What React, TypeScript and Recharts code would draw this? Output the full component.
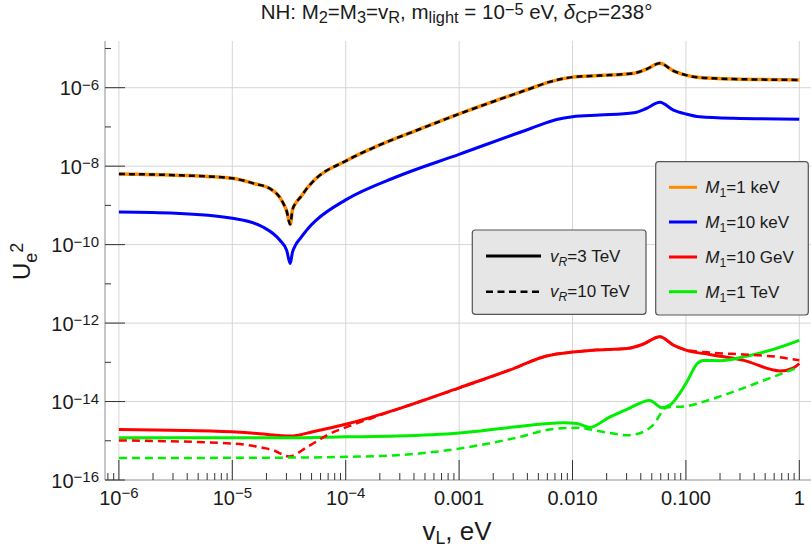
import React from "react";
import { LineChart, Line, XAxis, YAxis, CartesianGrid } from "recharts";

type Pt = { x: number; y: number };

// x ticks (v_L in eV)
const xMajor = [1e-6, 1e-5, 1e-4, 1e-3, 1e-2, 1e-1, 1];
const xMajorLabels = ["10|−6", "10|−5", "10|−4", "0.001", "0.010", "0.100", "1"];
const xMinorMantissa = [2, 3, 4, 5, 6, 7, 8, 9];
const xTicks = [8e-7, 9e-7, ...xMajor.slice(0, 6).flatMap((d) => [d, ...xMinorMantissa.map((m) => m * d)]), 1];

// y ticks (U_e^2)
const yTicks = [1e-16, 1e-15, 1e-14, 1e-13, 1e-12, 1e-11, 1e-10, 1e-9, 1e-8, 1e-7, 1e-6, 1e-5];
const yMajor = [1e-16, 1e-14, 1e-12, 1e-10, 1e-8, 1e-6];
const yMajorLabels = ["10|−16", "10|−14", "10|−12", "10|−10", "10|−8", "10|−6"];
const yGrid = [1e-14, 1e-12, 1e-10, 1e-8, 1e-6];

// M1 = 1 keV, vR = 3 TeV (orange) — the 10 TeV curve lies on top of it
const keV1_vR3: Pt[] = [
  { x: 1e-6, y: 6.31e-9 }, { x: 3.16e-6, y: 5.89e-9 }, { x: 1e-5, y: 4.9e-9 },
  { x: 1.58e-5, y: 3.55e-9 }, { x: 2.14e-5, y: 2.69e-9 }, { x: 2.82e-5, y: 1.12e-9 },
  { x: 3.02e-5, y: 7.08e-10 }, { x: 3.24e-5, y: 3.31e-10 }, { x: 3.39e-5, y: 7.6e-10 },
  { x: 3.63e-5, y: 1.15e-9 }, { x: 3.98e-5, y: 1.6e-9 }, { x: 4.68e-5, y: 3.0e-9 },
  { x: 5.5e-5, y: 4.9e-9 }, { x: 1e-4, y: 1.35e-8 },
  { x: 2e-4, y: 3.47e-8 }, { x: 4.47e-4, y: 8.71e-8 }, { x: 1e-3, y: 2.14e-7 },
  { x: 4.27e-3, y: 9.55e-7 }, { x: 6.3e-3, y: 1.41e-6 }, { x: 0.01, y: 1.86e-6 },
  { x: 0.0174, y: 2.04e-6 }, { x: 0.0347, y: 2.34e-6 }, { x: 0.0447, y: 2.95e-6 },
  { x: 0.0589, y: 4.17e-6 }, { x: 0.0776, y: 2.69e-6 }, { x: 0.1, y: 2.09e-6 },
  { x: 0.132, y: 1.82e-6 }, { x: 0.263, y: 1.66e-6 }, { x: 1, y: 1.58e-6 },
];
const keV1_vR10: Pt[] = keV1_vR3;

// M1 = 10 keV (blue)
const keV10_vR3: Pt[] = [
  { x: 1e-6, y: 6.76e-10 }, { x: 3.16e-6, y: 6.31e-10 }, { x: 1e-5, y: 4.68e-10 },
  { x: 1.86e-5, y: 2.82e-10 }, { x: 2.63e-5, y: 1.29e-10 }, { x: 3.02e-5, y: 7.08e-11 },
  { x: 3.24e-5, y: 3.31e-11 }, { x: 3.39e-5, y: 6.3e-11 }, { x: 3.63e-5, y: 1.0e-10 },
  { x: 3.98e-5, y: 1.45e-10 }, { x: 4.68e-5, y: 2.63e-10 }, { x: 5.5e-5, y: 4.2e-10 },
  { x: 1e-4, y: 1.38e-9 }, { x: 2.82e-4, y: 5.37e-9 },
  { x: 1e-3, y: 2.0e-8 }, { x: 4.27e-3, y: 9.12e-8 }, { x: 7.24e-3, y: 1.55e-7 },
  { x: 0.01, y: 1.82e-7 }, { x: 0.0174, y: 2.0e-7 }, { x: 0.0347, y: 2.29e-7 },
  { x: 0.0447, y: 2.95e-7 }, { x: 0.0589, y: 4.27e-7 }, { x: 0.0776, y: 2.69e-7 },
  { x: 0.1, y: 2.14e-7 }, { x: 0.132, y: 1.82e-7 }, { x: 0.263, y: 1.66e-7 },
  { x: 1, y: 1.58e-7 },
];

// M1 = 10 GeV (red)
const GeV10_vR3: Pt[] = [
  { x: 1e-6, y: 1.95e-15 }, { x: 1e-5, y: 1.7e-15 }, { x: 1.74e-5, y: 1.51e-15 },
  { x: 3.24e-5, y: 1.32e-15 }, { x: 5.13e-5, y: 1.7e-15 }, { x: 1e-4, y: 2.63e-15 },
  { x: 2.82e-4, y: 6.31e-15 }, { x: 1e-3, y: 2.24e-14 }, { x: 3.02e-3, y: 6.92e-14 },
  { x: 5.89e-3, y: 1.45e-13 }, { x: 0.01, y: 1.82e-13 }, { x: 0.0151, y: 2.04e-13 },
  { x: 0.0302, y: 2.24e-13 }, { x: 0.0417, y: 2.88e-13 }, { x: 0.0589, y: 4.47e-13 },
  { x: 0.0776, y: 2.75e-13 }, { x: 0.1, y: 2.04e-13 }, { x: 0.162, y: 1.58e-13 },
  { x: 0.324, y: 1.12e-13 }, { x: 0.676, y: 6.03e-14 }, { x: 0.891, y: 7.24e-14 },
  { x: 1, y: 9.33e-14 },
];
const GeV10_vR10: Pt[] = [
  { x: 1e-6, y: 1.02e-15 }, { x: 1e-5, y: 8.51e-16 }, { x: 1.86e-5, y: 6.61e-16 },
  { x: 2.29e-5, y: 5.75e-16 }, { x: 3.16e-5, y: 3.98e-16 }, { x: 4.57e-5, y: 6.92e-16 },
  { x: 7.24e-5, y: 1.51e-15 }, { x: 1e-4, y: 2.19e-15 }, { x: 2e-4, y: 4.47e-15 },
  { x: 3.98e-4, y: 8.91e-15 }, { x: 1e-3, y: 2.19e-14 }, { x: 3.02e-3, y: 6.92e-14 },
  { x: 5.89e-3, y: 1.45e-13 }, { x: 0.01, y: 1.82e-13 }, { x: 0.0151, y: 2.04e-13 },
  { x: 0.0302, y: 2.24e-13 }, { x: 0.0417, y: 2.88e-13 }, { x: 0.0589, y: 4.47e-13 },
  { x: 0.0776, y: 2.75e-13 }, { x: 0.1, y: 2.09e-13 }, { x: 0.162, y: 1.78e-13 },
  { x: 0.324, y: 1.58e-13 }, { x: 0.631, y: 1.38e-13 }, { x: 1, y: 1.12e-13 },
];

// M1 = 1 TeV (green)
const TeV1_vR3: Pt[] = [
  { x: 1e-6, y: 1.2e-15 }, { x: 3.16e-5, y: 1.2e-15 }, { x: 1e-4, y: 1.26e-15 },
  { x: 2.82e-4, y: 1.32e-15 }, { x: 1e-3, y: 1.58e-15 }, { x: 3.02e-3, y: 2.24e-15 },
  { x: 8.32e-3, y: 2.88e-15 }, { x: 0.011, y: 2.75e-15 }, { x: 0.0141, y: 2.19e-15 },
  { x: 0.0214, y: 4.07e-15 }, { x: 0.0302, y: 6.31e-15 }, { x: 0.0479, y: 1.07e-14 },
  { x: 0.0617, y: 6.92e-15 }, { x: 0.0724, y: 8.13e-15 }, { x: 0.1, y: 2.88e-14 },
  { x: 0.126, y: 9.33e-14 }, { x: 0.141, y: 1.12e-13 }, { x: 0.2, y: 1.1e-13 },
  { x: 0.324, y: 1.38e-13 }, { x: 0.589, y: 2.14e-13 }, { x: 1, y: 3.63e-13 },
];
const TeV1_vR10: Pt[] = [
  { x: 1e-6, y: 3.63e-16 }, { x: 3.16e-5, y: 3.72e-16 }, { x: 1e-4, y: 3.89e-16 },
  { x: 2.82e-4, y: 4.27e-16 }, { x: 1e-3, y: 6.31e-16 }, { x: 3.02e-3, y: 1.15e-15 },
  { x: 7.24e-3, y: 2.04e-15 }, { x: 0.0117, y: 2.14e-15 }, { x: 0.0141, y: 1.95e-15 },
  { x: 0.0214, y: 1.58e-15 }, { x: 0.0302, y: 1.38e-15 }, { x: 0.0398, y: 1.58e-15 },
  { x: 0.0513, y: 2.51e-15 }, { x: 0.0676, y: 7.08e-15 }, { x: 0.1, y: 7.59e-15 },
  { x: 0.141, y: 9.77e-15 }, { x: 0.229, y: 1.55e-14 }, { x: 0.447, y: 3.16e-14 },
  { x: 1, y: 7.59e-14 },
];

const FONT = '"Liberation Sans", Arial, sans-serif';
const INK = "#1a1a1a";
const TICK = "#333";
const FRAME = "#8c8c8c";
const ORANGE = "#ff8a00";
const BLUE = "#0000ff";
const RED = "#ff0000";
const GREEN = "#00ee00";

function powerLabel(label: string, x: number, y: number, anchor: "middle" | "end", raise: number) {
  const [base, exp] = label.split("|");
  return (
    <text x={x} y={y} textAnchor={anchor} fontFamily={FONT} fill={INK} fontSize={20}>
      {base}
      {exp && (
        <tspan dy={-raise} fontSize={15}>
          {exp}
        </tspan>
      )}
    </text>
  );
}

const BottomTick = (p: any) => {
  const i = xMajor.indexOf(p.payload.value);
  return (
    <g>
      <line x1={p.x} x2={p.x} y1={p.y} y2={p.y - (i >= 0 ? 20 : 7)} stroke={TICK} />
      {i >= 0 && powerLabel(xMajorLabels[i], p.x, p.y + 25, "middle", 7)}
    </g>
  );
};

const TopTick = (p: any) => {
  const major = xMajor.indexOf(p.payload.value) >= 0;
  return <line x1={p.x} x2={p.x} y1={p.y} y2={p.y + (major ? 20 : 7)} stroke={TICK} />;
};

const LeftTick = (p: any) => {
  const i = yMajor.indexOf(p.payload.value);
  return (
    <g>
      <line x1={p.x} x2={p.x + (i >= 0 ? 20 : 6)} y1={p.y} y2={p.y} stroke={TICK} />
      {i >= 0 && powerLabel(yMajorLabels[i], p.x - 6, p.y + 7.5, "end", 5.5)}
    </g>
  );
};

const RightTick = (p: any) => {
  const major = yMajor.indexOf(p.payload.value) >= 0;
  return <line x1={p.x} x2={p.x - (major ? 20 : 6)} y1={p.y} y2={p.y} stroke={TICK} />;
};

// sub/superscripts inside svg text
function Rich({ parts, size, scale = 0.8, shift = 0.24, supShift = shift * 1.1 }: { parts: [string, string?, boolean?][]; size: number; scale?: number; shift?: number; supShift?: number }) {
  let cur = 0;
  return (
    <>
      {parts.map(([t, kind, italic], k) => {
        const target = kind === "sub" ? size * shift : kind === "sup" ? -size * supShift : 0;
        const dy = target - cur;
        cur = target;
        return (
          <tspan
            key={k}
            dy={dy}
            fontSize={kind ? size * scale : size}
            fontStyle={italic ? "italic" : "normal"}
          >
            {t}
          </tspan>
        );
      })}
    </>
  );
}

const seriesLegend = [
  { label: "1 keV", color: ORANGE },
  { label: "10 keV", color: BLUE },
  { label: "10 GeV", color: RED },
  { label: "1 TeV", color: GREEN },
];

export default function App() {
  return (
    <div style={{ position: "relative", width: 811, height: 549, background: "#fff" }}>
      <style>{"body{margin:0;overflow:hidden}"}</style>
      <LineChart width={811} height={549} margin={{ top: 41, right: 0, bottom: 0, left: 0 }}>
        <CartesianGrid
          stroke="#d6d6d6"
          verticalValues={xMajor}
          horizontalValues={yGrid}
        />
        <XAxis
          dataKey="x"
          type="number"
          scale="log"
          domain={[7.54e-7, 1.268]}
          allowDataOverflow
          ticks={xTicks}
          interval={0}
          height={69}
          tickSize={0}
          tickMargin={0}
          tickLine={false}
          axisLine={{ stroke: FRAME }}
          tick={(p: any) => <BottomTick {...p} />}
        />
        <XAxis
          xAxisId="top"
          orientation="top"
          dataKey="x"
          type="number"
          scale="log"
          domain={[7.54e-7, 1.268]}
          allowDataOverflow
          ticks={xTicks}
          interval={0}
          height={0}
          tickSize={0}
          tickMargin={0}
          tickLine={false}
          axisLine={{ stroke: FRAME }}
          tick={(p: any) => <TopTick {...p} />}
        />
        <YAxis
          type="number"
          scale="log"
          domain={[1e-16, 1.55e-5]}
          allowDataOverflow
          ticks={yTicks}
          interval={0}
          width={105}
          tickSize={0}
          tickMargin={0}
          tickLine={false}
          axisLine={{ stroke: FRAME }}
          tick={(p: any) => <LeftTick {...p} />}
        />
        <YAxis
          yAxisId="right"
          orientation="right"
          type="number"
          scale="log"
          domain={[1e-16, 1.55e-5]}
          allowDataOverflow
          ticks={yTicks}
          interval={0}
          width={0}
          tickSize={0}
          tickMargin={0}
          tickLine={false}
          axisLine={{ stroke: FRAME }}
          tick={(p: any) => <RightTick {...p} />}
        />
        <Line data={keV1_vR3} dataKey="y" type="monotone" stroke={ORANGE} strokeWidth={3.5} dot={false} isAnimationActive={false} />
        <Line data={keV1_vR10} dataKey="y" type="monotone" stroke="#000" strokeWidth={2.5} strokeDasharray="6 4" dot={false} isAnimationActive={false} />
        <Line data={keV10_vR3} dataKey="y" type="monotone" stroke={BLUE} strokeWidth={3} dot={false} isAnimationActive={false} />
        <Line data={GeV10_vR3} dataKey="y" type="monotone" stroke={RED} strokeWidth={3} dot={false} isAnimationActive={false} />
        <Line data={TeV1_vR3} dataKey="y" type="monotone" stroke={GREEN} strokeWidth={3} dot={false} isAnimationActive={false} />
        <Line data={GeV10_vR10} dataKey="y" type="monotone" stroke={RED} strokeWidth={2.5} strokeDasharray="8 5" dot={false} isAnimationActive={false} />
        <Line data={TeV1_vR10} dataKey="y" type="monotone" stroke={GREEN} strokeWidth={2.5} strokeDasharray="8 5" dot={false} isAnimationActive={false} />
      </LineChart>

      <svg
        width={811}
        height={549}
        style={{ position: "absolute", left: 0, top: 0, pointerEvents: "none" }}
        fontFamily={FONT}
      >
        <text x={456.5} y={18.5} textAnchor="middle" fill={INK} fontSize={20.5}>
          <Rich
            size={20.5}
            supShift={0.19}
            parts={[
              ["NH: M"], ["2", "sub"], ["=M"], ["3", "sub"], ["=v"], ["R", "sub"],
              [", m"], ["light", "sub"], [" = 10"], ["−5", "sup"], [" eV, "],
              ["δ", undefined, true], ["CP", "sub"], ["=238°"],
            ]}
          />
        </text>
        <text x={457} y={540} textAnchor="middle" fill={INK} fontSize={26}>
          <Rich size={26} scale={0.68} shift={0.15} parts={[["v"], ["L", "sub"], [", eV"]]} />
        </text>
        <text x={30} y={280} textAnchor="start" fill={INK} fontSize={24} transform="rotate(-90 30 280)">
          <Rich size={24} scale={0.75} shift={0.28} parts={[["U"], ["e", "sub"], ["2", "sup"]]} />
        </text>

        {/* vR legend */}
        <rect x={472.3} y={230} width={173.7} height={84.3} rx={3} fill="#e6e6e6" stroke="#555" strokeWidth={1.2} />
        <line x1={486} x2={541} y1={256} y2={256} stroke="#000" strokeWidth={3} />
        <line x1={486} x2={541} y1={291.7} y2={291.7} stroke="#000" strokeWidth={2.5} strokeDasharray="7 4.5" />
        <text x={550} y={262} fontSize={17} fill={INK}>
          <Rich size={17} scale={0.72} parts={[["v", undefined, true], ["R", "sub", true], ["=3 TeV"]]} />
        </text>
        <text x={550} y={297} fontSize={17} fill={INK}>
          <Rich size={17} scale={0.72} parts={[["v", undefined, true], ["R", "sub", true], ["=10 TeV"]]} />
        </text>

        {/* M1 legend */}
        <rect x={655.7} y={161.7} width={152.6} height={153.3} rx={3} fill="#e6e6e6" stroke="#555" strokeWidth={1.2} />
        {seriesLegend.map((s, k) => {
          const cy = [187.3, 222, 257, 291.7][k];
          return (
            <g key={s.label}>
              <line x1={669} x2={697} y1={cy} y2={cy} stroke={s.color} strokeWidth={3} />
              <text x={705.3} y={cy + 6} fontSize={17} fill={INK}>
                <Rich size={17} scale={0.72} parts={[["M", undefined, true], ["1", "sub"], ["=" + s.label]]} />
              </text>
            </g>
          );
        })}
      </svg>
    </div>
  );
}
